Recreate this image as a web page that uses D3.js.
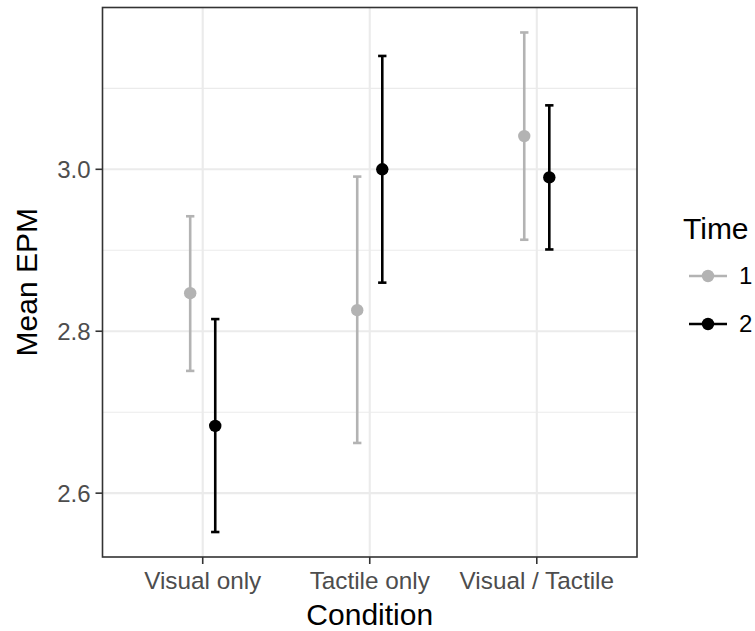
<!DOCTYPE html>
<html><head><meta charset="utf-8">
<script src="https://cdn.jsdelivr.net/npm/d3@7"></script>
<style>body{margin:0;background:#fff}svg{display:block}text{font-family:"Liberation Sans",Arial,Helvetica,sans-serif}</style>
</head><body>
<script>
const conditions = ["Visual only", "Tactile only", "Visual / Tactile"];
const times = ["1", "2"];
const means = { "1": [2.847, 2.826, 3.041], "2": [2.683, 3.000, 2.990] };
const lower = { "1": [2.751, 2.662, 2.913], "2": [2.552, 2.860, 2.901] };
const upper = { "1": [2.942, 2.991, 3.169], "2": [2.815, 3.140, 3.079] };
const yMajor = [2.6, 2.8, 3.0];
const yMinor = [2.5, 2.7, 2.9, 3.1];
const colors = { "1": "#b3b3b3", "2": "#000000" };

const W = 755, H = 631;
const P = { l: 102.5, r: 637, t: 7.5, b: 557 };
const svg = d3.select("body").append("svg").attr("width", W).attr("height", H);

const allVals = times.flatMap(t => lower[t].concat(upper[t]));
const lo = d3.min(allVals), hi = d3.max(allVals), ex = (hi - lo) * 0.05;
const y = d3.scaleLinear().domain([lo - ex, hi + ex]).range([P.b, P.t]);
const xc = d3.scaleLinear().domain([0.4, 3.6]).range([P.l, P.r]);
const dodge = 0.075, capW = 0.025;

const g = svg.append("g");
// grid
g.selectAll(".minor").data(yMinor.filter(v => y(v) > P.t && y(v) < P.b)).join("line")
  .attr("x1", P.l).attr("x2", P.r).attr("y1", d => y(d)).attr("y2", d => y(d))
  .attr("stroke", "#ebebeb").attr("stroke-width", 1.1);
g.selectAll(".major").data(yMajor).join("line")
  .attr("x1", P.l).attr("x2", P.r).attr("y1", d => y(d)).attr("y2", d => y(d))
  .attr("stroke", "#ebebeb").attr("stroke-width", 2.1);
g.selectAll(".vmaj").data(conditions).join("line")
  .attr("y1", P.t).attr("y2", P.b).attr("x1", (d, i) => xc(i + 1)).attr("x2", (d, i) => xc(i + 1))
  .attr("stroke", "#ebebeb").attr("stroke-width", 2.1);

// error bars and points
times.forEach((t, ti) => {
  const off = ti === 0 ? -dodge : dodge;
  const gg = svg.append("g").attr("stroke", colors[t]).attr("fill", colors[t]);
  conditions.forEach((c, i) => {
    const cx = xc(i + 1 + off);
    gg.append("line").attr("x1", cx).attr("x2", cx).attr("y1", y(lower[t][i])).attr("y2", y(upper[t][i])).attr("stroke-width", 2.6);
    [lower[t][i], upper[t][i]].forEach(v => {
      gg.append("line").attr("x1", xc(i + 1 + off - capW)).attr("x2", xc(i + 1 + off + capW))
        .attr("y1", y(v)).attr("y2", y(v)).attr("stroke-width", 2.6);
    });
    gg.append("circle").attr("cx", cx).attr("cy", y(means[t][i])).attr("r", 6.2).attr("stroke", "none");
  });
});

// border
svg.append("rect").attr("x", P.l).attr("y", P.t).attr("width", P.r - P.l).attr("height", P.b - P.t)
  .attr("fill", "none").attr("stroke", "#333333").attr("stroke-width", 1.6);

// y axis
yMajor.forEach(v => {
  svg.append("line").attr("x1", P.l - 7).attr("x2", P.l).attr("y1", y(v)).attr("y2", y(v)).attr("stroke", "#333333").attr("stroke-width", 1.6);
  svg.append("text").attr("x", P.l - 12).attr("y", y(v)).attr("dy", "0.35em").attr("text-anchor", "end")
    .attr("font-size", 24).attr("fill", "#4d4d4d").text(v.toFixed(1));
});
// x axis
conditions.forEach((c, i) => {
  svg.append("line").attr("x1", xc(i + 1)).attr("x2", xc(i + 1)).attr("y1", P.b).attr("y2", P.b + 7).attr("stroke", "#333333").attr("stroke-width", 1.6);
  svg.append("text").attr("x", xc(i + 1)).attr("y", P.b + 32).attr("text-anchor", "middle")
    .attr("font-size", 24.3).attr("fill", "#4d4d4d").text(c);
});
svg.append("text").attr("x", (P.l + P.r) / 2).attr("y", 624.5).attr("text-anchor", "middle").attr("font-size", 30).attr("fill", "#000").text("Condition");
svg.append("text").attr("transform", `translate(36.5,${(P.t + P.b) / 2}) rotate(-90)`).attr("text-anchor", "middle").attr("font-size", 30).attr("fill", "#000").text("Mean EPM");

// legend
const lg = svg.append("g");
lg.append("text").attr("x", 683).attr("y", 239).attr("font-size", 30).attr("fill", "#000").text("Time");
times.forEach((t, i) => {
  const cy = 276 + i * 48;
  lg.append("line").attr("x1", 689).attr("x2", 727).attr("y1", cy).attr("y2", cy).attr("stroke", colors[t]).attr("stroke-width", 2.6);
  lg.append("circle").attr("cx", 708).attr("cy", cy).attr("r", 6.2).attr("fill", colors[t]);
  lg.append("text").attr("x", 739).attr("y", cy).attr("dy", "0.35em").attr("font-size", 24).attr("fill", "#000").text(t);
});
</script>
</body></html>
